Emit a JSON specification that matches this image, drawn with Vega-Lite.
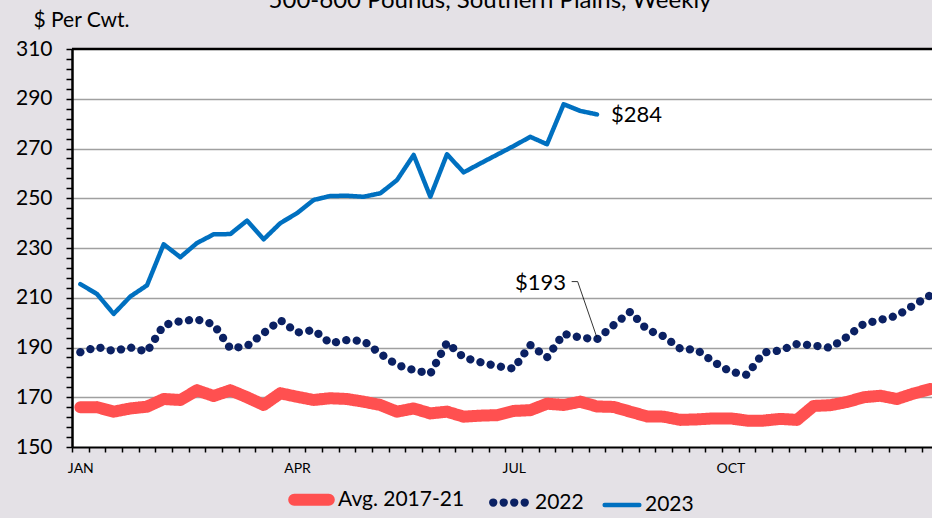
{
  "$schema": "https://vega.github.io/schema/vega-lite/v6.json",
  "autosize": "none",
  "width": 860,
  "height": 398,
  "padding": {"left": 72, "top": 49, "right": 0, "bottom": 71},
  "background": "#e4e1e6",
  "config": {
    "view": {"stroke": null, "fill": "white"},
    "font": "Lato",
    "text": {"font": "Lato"}
  },
  "title": {
    "text": "500-600 Pounds, Southern Plains, Weekly",
    "font": "Lato",
    "fontSize": 24,
    "fontWeight": "normal",
    "color": "black",
    "anchor": "middle",
    "dx": -12,
    "dy": 23,
    "offset": 0,
    "baseline": "alphabetic"
  },
  "datasets": {
    "lines": [
      {"week": 1, "series": "Avg. 2017-21", "value": 166},
      {"week": 2, "series": "Avg. 2017-21", "value": 166},
      {"week": 3, "series": "Avg. 2017-21", "value": 164.2},
      {"week": 4, "series": "Avg. 2017-21", "value": 165.5},
      {"week": 5, "series": "Avg. 2017-21", "value": 166.2},
      {"week": 6, "series": "Avg. 2017-21", "value": 169.3},
      {"week": 7, "series": "Avg. 2017-21", "value": 168.9},
      {"week": 8, "series": "Avg. 2017-21", "value": 172.8},
      {"week": 9, "series": "Avg. 2017-21", "value": 170.5},
      {"week": 10, "series": "Avg. 2017-21", "value": 172.8},
      {"week": 11, "series": "Avg. 2017-21", "value": 170},
      {"week": 12, "series": "Avg. 2017-21", "value": 166.9},
      {"week": 13, "series": "Avg. 2017-21", "value": 171.6},
      {"week": 14, "series": "Avg. 2017-21", "value": 170.2},
      {"week": 15, "series": "Avg. 2017-21", "value": 168.9},
      {"week": 16, "series": "Avg. 2017-21", "value": 169.6},
      {"week": 17, "series": "Avg. 2017-21", "value": 169.3},
      {"week": 18, "series": "Avg. 2017-21", "value": 168.2},
      {"week": 19, "series": "Avg. 2017-21", "value": 166.9},
      {"week": 20, "series": "Avg. 2017-21", "value": 164.2},
      {"week": 21, "series": "Avg. 2017-21", "value": 165.5},
      {"week": 22, "series": "Avg. 2017-21", "value": 163.5},
      {"week": 23, "series": "Avg. 2017-21", "value": 164.2},
      {"week": 24, "series": "Avg. 2017-21", "value": 162.2},
      {"week": 25, "series": "Avg. 2017-21", "value": 162.6},
      {"week": 26, "series": "Avg. 2017-21", "value": 162.8},
      {"week": 27, "series": "Avg. 2017-21", "value": 164.5},
      {"week": 28, "series": "Avg. 2017-21", "value": 164.8},
      {"week": 29, "series": "Avg. 2017-21", "value": 167.4},
      {"week": 30, "series": "Avg. 2017-21", "value": 166.9},
      {"week": 31, "series": "Avg. 2017-21", "value": 168.2},
      {"week": 32, "series": "Avg. 2017-21", "value": 166.3},
      {"week": 33, "series": "Avg. 2017-21", "value": 166.1},
      {"week": 34, "series": "Avg. 2017-21", "value": 164.2},
      {"week": 35, "series": "Avg. 2017-21", "value": 162.3},
      {"week": 36, "series": "Avg. 2017-21", "value": 162.2},
      {"week": 37, "series": "Avg. 2017-21", "value": 160.9},
      {"week": 38, "series": "Avg. 2017-21", "value": 161.1},
      {"week": 39, "series": "Avg. 2017-21", "value": 161.5},
      {"week": 40, "series": "Avg. 2017-21", "value": 161.5},
      {"week": 41, "series": "Avg. 2017-21", "value": 160.6},
      {"week": 42, "series": "Avg. 2017-21", "value": 160.6},
      {"week": 43, "series": "Avg. 2017-21", "value": 161.3},
      {"week": 44, "series": "Avg. 2017-21", "value": 160.9},
      {"week": 45, "series": "Avg. 2017-21", "value": 166.5},
      {"week": 46, "series": "Avg. 2017-21", "value": 166.8},
      {"week": 47, "series": "Avg. 2017-21", "value": 168.1},
      {"week": 48, "series": "Avg. 2017-21", "value": 170},
      {"week": 49, "series": "Avg. 2017-21", "value": 170.6},
      {"week": 50, "series": "Avg. 2017-21", "value": 169.3},
      {"week": 51, "series": "Avg. 2017-21", "value": 171.5},
      {"week": 52, "series": "Avg. 2017-21", "value": 173.3},
      {"week": 1, "series": "2022", "value": 188.1},
      {"week": 2, "series": "2022", "value": 190.2},
      {"week": 3, "series": "2022", "value": 188.6},
      {"week": 4, "series": "2022", "value": 190},
      {"week": 5, "series": "2022", "value": 188.3},
      {"week": 6, "series": "2022", "value": 199},
      {"week": 7, "series": "2022", "value": 200.6},
      {"week": 8, "series": "2022", "value": 201.3},
      {"week": 9, "series": "2022", "value": 199.3},
      {"week": 10, "series": "2022", "value": 189.6},
      {"week": 11, "series": "2022", "value": 190.6},
      {"week": 12, "series": "2022", "value": 195.8},
      {"week": 13, "series": "2022", "value": 201},
      {"week": 14, "series": "2022", "value": 196},
      {"week": 15, "series": "2022", "value": 197},
      {"week": 16, "series": "2022", "value": 191.7},
      {"week": 17, "series": "2022", "value": 193},
      {"week": 18, "series": "2022", "value": 192.6},
      {"week": 19, "series": "2022", "value": 187.5},
      {"week": 20, "series": "2022", "value": 183},
      {"week": 21, "series": "2022", "value": 180.9},
      {"week": 22, "series": "2022", "value": 179.5},
      {"week": 23, "series": "2022", "value": 192},
      {"week": 24, "series": "2022", "value": 186},
      {"week": 25, "series": "2022", "value": 184.1},
      {"week": 26, "series": "2022", "value": 182.5},
      {"week": 27, "series": "2022", "value": 181.5},
      {"week": 28, "series": "2022", "value": 191},
      {"week": 29, "series": "2022", "value": 186},
      {"week": 30, "series": "2022", "value": 195.5},
      {"week": 31, "series": "2022", "value": 194},
      {"week": 32, "series": "2022", "value": 193.3},
      {"week": 33, "series": "2022", "value": 199},
      {"week": 34, "series": "2022", "value": 204.4},
      {"week": 35, "series": "2022", "value": 197.2},
      {"week": 36, "series": "2022", "value": 194.5},
      {"week": 37, "series": "2022", "value": 189.5},
      {"week": 38, "series": "2022", "value": 189},
      {"week": 39, "series": "2022", "value": 184.2},
      {"week": 40, "series": "2022", "value": 180.3},
      {"week": 41, "series": "2022", "value": 179},
      {"week": 42, "series": "2022", "value": 188},
      {"week": 43, "series": "2022", "value": 188.8},
      {"week": 44, "series": "2022", "value": 191.4},
      {"week": 45, "series": "2022", "value": 190.8},
      {"week": 46, "series": "2022", "value": 189.9},
      {"week": 47, "series": "2022", "value": 194.3},
      {"week": 48, "series": "2022", "value": 199.5},
      {"week": 49, "series": "2022", "value": 201.1},
      {"week": 50, "series": "2022", "value": 202.8},
      {"week": 51, "series": "2022", "value": 207},
      {"week": 52, "series": "2022", "value": 211},
      {"week": 1, "series": "2023", "value": 215.5},
      {"week": 2, "series": "2023", "value": 211.5},
      {"week": 3, "series": "2023", "value": 203.5},
      {"week": 4, "series": "2023", "value": 210.5},
      {"week": 5, "series": "2023", "value": 215},
      {"week": 6, "series": "2023", "value": 231.5},
      {"week": 7, "series": "2023", "value": 226.3},
      {"week": 8, "series": "2023", "value": 232},
      {"week": 9, "series": "2023", "value": 235.5},
      {"week": 10, "series": "2023", "value": 235.6},
      {"week": 11, "series": "2023", "value": 241},
      {"week": 12, "series": "2023", "value": 233.5},
      {"week": 13, "series": "2023", "value": 240},
      {"week": 14, "series": "2023", "value": 244},
      {"week": 15, "series": "2023", "value": 249.3},
      {"week": 16, "series": "2023", "value": 250.9},
      {"week": 17, "series": "2023", "value": 251},
      {"week": 18, "series": "2023", "value": 250.6},
      {"week": 19, "series": "2023", "value": 252},
      {"week": 20, "series": "2023", "value": 257.3},
      {"week": 21, "series": "2023", "value": 267.4},
      {"week": 22, "series": "2023", "value": 250.6},
      {"week": 23, "series": "2023", "value": 267.7},
      {"week": 24, "series": "2023", "value": 260.4},
      {"week": 25, "series": "2023", "value": 264},
      {"week": 26, "series": "2023", "value": 267.5},
      {"week": 27, "series": "2023", "value": 271},
      {"week": 28, "series": "2023", "value": 274.7},
      {"week": 29, "series": "2023", "value": 271.7},
      {"week": 30, "series": "2023", "value": 287.8},
      {"week": 31, "series": "2023", "value": 285.1},
      {"week": 32, "series": "2023", "value": 283.7}
    ],
    "labels": [
      {"week": 32, "value": 283.7, "label": "$284", "side": "right"},
      {"week": 32, "value": 193.3, "label": "$193", "side": "left"}
    ],
    "leader": [
      {"week": 30.48, "value": 216.5, "o": 1},
      {"week": 30.84, "value": 216.5, "o": 2},
      {"week": 31.98, "value": 194.3, "o": 3}
    ],
    "frame": [
      {"week": 0.5, "value": 310},
      {"week": 52.1, "value": 310}
    ]
  },
  "encoding": {
    "x": {
      "field": "week",
      "type": "quantitative",
      "scale": {"domain": [0.5, 52.1], "nice": false, "zero": false},
      "axis": {
        "title": null,
        "values": [0.5,1.5,2.5,3.5,4.5,5.5,6.5,7.5,8.5,9.5,10.5,11.5,12.5,13.5,14.5,15.5,16.5,17.5,18.5,19.5,20.5,21.5,22.5,23.5,24.5,25.5,26.5,27.5,28.5,29.5,30.5,31.5,32.5,33.5,34.5,35.5,36.5,37.5,38.5,39.5,40.5,41.5,42.5,43.5,44.5,45.5,46.5,47.5,48.5,49.5,50.5,51.5],
        "labelExpr": "datum.value == 0.5 ? 'JAN' : datum.value == 13.5 ? 'APR' : datum.value == 26.5 ? 'JUL' : datum.value == 39.5 ? 'OCT' : ''",
        "labelOffset": 8.33,
        "labelOverlap": false,
        "labelBound": false,
        "labelFlush": false,
        "labelFont": "Lato",
        "labelFontSize": 14,
        "labelColor": "black",
        "labelPadding": 9,
        "grid": false,
        "domainColor": "black",
        "domainWidth": 2,
        "tickColor": "black",
        "tickWidth": 1.5,
        "tickSize": 5
      }
    },
    "y": {
      "field": "value",
      "type": "quantitative",
      "scale": {"domain": [150, 310], "nice": false, "zero": false},
      "axis": {
        "title": "$ Per Cwt.",
        "titleAngle": 0,
        "titleX": -39,
        "titleY": -29,
        "titleAlign": "left",
        "titleBaseline": "middle",
        "titleFont": "Lato",
        "titleFontSize": 21,
        "titleFontWeight": "normal",
        "titleColor": "black",
        "values": [150,154,158,162,166,170,174,178,182,186,190,194,198,202,206,210,214,218,222,226,230,234,238,242,246,250,254,258,262,266,270,274,278,282,286,290,294,298,302,306,310],
        "labelExpr": "datum.value % 20 == 10 ? datum.label : ''",
        "labelOverlap": false,
        "labelFont": "Lato",
        "labelFontSize": 21,
        "labelColor": "black",
        "labelPadding": 14,
        "domainColor": "black",
        "domainWidth": 2.5,
        "tickColor": "black",
        "tickWidth": 1.5,
        "tickSize": 6,
        "grid": true,
        "gridColor": "#a0a0a0",
        "gridWidth": 1.5,
        "gridOpacity": {"condition": {"test": "datum.value % 20 == 10 && datum.value > 150 && datum.value < 310", "value": 1}, "value": 0}
      }
    }
  },
  "layer": [
    {
      "data": {"name": "lines"},
      "mark": {"type": "line", "strokeCap": "round", "strokeJoin": "round"},
      "encoding": {
        "color": {
          "field": "series",
          "type": "nominal",
          "scale": {"domain": ["Avg. 2017-21", "2022", "2023"], "range": ["#ff5050", "#0b2163", "#0070c0"]},
          "legend": {
            "orient": "none",
            "legendX": 216,
            "legendY": 427,
            "direction": "horizontal",
            "title": null,
            "symbolType": "stroke",
            "symbolSize": 1200,
            "labelFont": "Lato",
            "labelFontSize": 21,
            "labelColor": "black",
            "labelOffset": 3,
            "columnPadding": 11,
            "encode": {"symbols": {"update": {"strokeCap": {"value": "round"}}}}
          }
        },
        "strokeWidth": {
          "field": "series",
          "type": "nominal",
          "scale": {"domain": ["Avg. 2017-21", "2022", "2023"], "range": [12, 4.5, 4.5]},
          "legend": null
        },
        "strokeDash": {
          "field": "series",
          "type": "nominal",
          "scale": {"domain": ["Avg. 2017-21", "2022", "2023"], "range": [[1, 0], [0.1, 10.4], [1, 0]]},
          "legend": null
        }
      }
    },
    {
      "data": {"name": "frame"},
      "mark": {"type": "line", "color": "black", "strokeWidth": 2.5, "clip": false},
      "encoding": {}
    },
    {
      "data": {"name": "leader"},
      "mark": {"type": "line", "color": "black", "strokeWidth": 0.8},
      "encoding": {
        "order": {"field": "o"}
      }
    },
    {
      "data": {"name": "labels"},
      "transform": [{"filter": "datum.side == 'right'"}],
      "mark": {"type": "text", "align": "left", "baseline": "middle", "dx": 14, "dy": 1, "fontSize": 22, "font": "Lato", "color": "black"},
      "encoding": {
        "text": {"field": "label"}
      }
    },
    {
      "data": {"name": "labels"},
      "transform": [{"filter": "datum.side == 'left'"}],
      "mark": {"type": "text", "align": "right", "baseline": "middle", "dx": -31, "dy": -56, "fontSize": 22, "font": "Lato", "color": "black"},
      "encoding": {
        "text": {"field": "label"}
      }
    }
  ]
}
